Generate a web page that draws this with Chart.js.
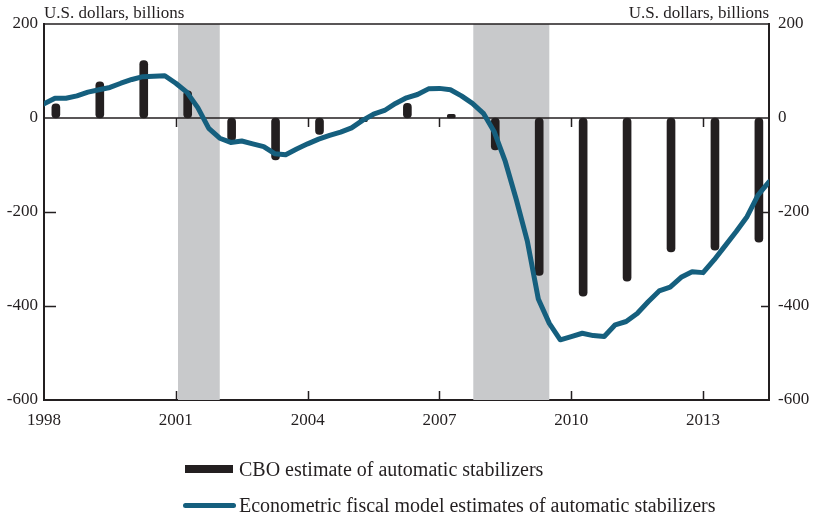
<!DOCTYPE html>
<html>
<head>
<meta charset="utf-8">
<script src="https://cdn.jsdelivr.net/npm/chart.js@4.4.1/dist/chart.umd.min.js"></script>
<style>
  html, body { margin: 0; padding: 0; background: #fff; }
  #wrap { position: relative; width: 815px; height: 517px; }
  #chart { position: absolute; left: 0; top: 0; }
  .legend-row { position: absolute; left: 183px; font: 20px "Liberation Serif", serif; color: #231f20; white-space: nowrap; line-height: 24px; }
  .legend-row span.sym { display: inline-block; vertical-align: middle; margin-right: 5px; position: relative; top: -2px; }
</style>
</head>
<body>
<div id="wrap">
  <canvas id="chart" width="815" height="517"></canvas>
  <div class="legend-row" style="top:457px;">
    <span class="sym" style="width:48px;height:8px;background:#231f20;margin-left:2px;margin-right:6px;"></span>CBO estimate of automatic stabilizers
  </div>
  <div class="legend-row" style="top:493px;">
    <span class="sym" style="width:53px;height:5px;background:#155f7e;border-radius:3px;margin-right:3px;"></span>Econometric fiscal model estimates of automatic stabilizers
  </div>
</div>
<script>
// --- datos ---
const cboYears = [1998, 1999, 2000, 2001, 2002, 2003, 2004, 2005, 2006, 2007, 2008, 2009, 2010, 2011, 2012, 2013, 2014];
const cboValues = [30, 77, 122, 58, -48, -89, -35, -8, 31, 8, -68, -335, -379, -347, -285, -281, -264];

// quarterly series, 1998Q1 .. 2014Q3
const modelValues = [
  30, 42, 42, 47,
  55, 60, 65, 74,
  82, 88, 89, 90,
  74, 55, 22, -22,
  -43, -52, -49, -55,
  -61, -76, -78, -66,
  -55, -45, -37, -30,
  -21, -5, 8, 16,
  31, 43, 50, 62,
  63, 60, 47, 31,
  10, -30, -93, -174,
  -262, -385, -437, -472,
  -465, -458, -463, -465,
  -440, -433, -416, -391,
  -368, -360, -339, -327,
  -329, -302, -272, -242,
  -210, -164, -136
];

const recessionStarts = [2001.05, 2007.77];
const recessionEnds = [2002.0, 2009.5];

const xTickYears = [1998, 2001, 2004, 2007, 2010, 2013];
const yTicks = [200, 0, -200, -400, -600];
const axisTitle = 'U.S. dollars, billions';

const INK = '#231f20';
const BLUE = '#155f7e';
const FONT = '"Liberation Serif", serif';

// CBO bars sit a bit after the start of each year
const cboPoints = cboYears.map((y, i) => ({ x: y + 0.27, y: cboValues[i] }));
const modelPoints = modelValues.map((v, i) => ({ x: 1998 + i * 0.25, y: v }));

// --- plugin: recesiones, línea cero, marcas internas, títulos ---
const decorations = {
    id: 'decorations',
    beforeDatasetsDraw(chart) {
        const { ctx, chartArea: a, scales } = chart;
        const x = scales.x, y = scales.y;
        ctx.save();
        ctx.fillStyle = '#c8c9cb';
        recessionStarts.forEach((s, i) => {
            const x0 = x.getPixelForValue(s);
            const x1 = x.getPixelForValue(recessionEnds[i]);
            ctx.fillRect(x0, a.top, x1 - x0, a.bottom - a.top);
        });
        // zero line with small downward ticks
        const y0 = y.getPixelForValue(0);
        ctx.strokeStyle = INK;
        ctx.lineWidth = 1.5;
        ctx.beginPath();
        ctx.moveTo(a.left, y0);
        ctx.lineTo(a.right, y0);
        xTickYears.slice(1).forEach(t => {
            const px = Math.round(x.getPixelForValue(t)) + 0.5;
            ctx.moveTo(px, y0);
            ctx.lineTo(px, y0 + 9);
        });
        ctx.stroke();
        ctx.restore();
    },
    afterDatasetsDraw(chart) {
        const { ctx, chartArea: a, scales } = chart;
        const x = scales.x, y = scales.y;
        ctx.save();
        ctx.strokeStyle = INK;
        ctx.lineWidth = 1.5;
        ctx.beginPath();
        // top border
        ctx.moveTo(a.left, a.top);
        ctx.lineTo(a.right, a.top);
        // inward ticks
        xTickYears.slice(1).forEach(t => {
            const px = Math.round(x.getPixelForValue(t)) + 0.5;
            ctx.moveTo(px, a.bottom);
            ctx.lineTo(px, a.bottom - 9);
        });
        [-200, -400].forEach(t => {
            const py = Math.round(y.getPixelForValue(t)) + 0.5;
            ctx.moveTo(a.left, py);
            ctx.lineTo(a.left + 12, py);
            ctx.moveTo(a.right, py);
            ctx.lineTo(a.right - 8, py);
        });
        ctx.stroke();
        // axis titles
        ctx.fillStyle = INK;
        ctx.font = '17px ' + FONT;
        ctx.textBaseline = 'alphabetic';
        ctx.textAlign = 'left';
        ctx.fillText(axisTitle, a.left, a.top - 6);
        ctx.textAlign = 'right';
        ctx.fillText(axisTitle, a.right, a.top - 6);
        ctx.restore();
    }
};

const tickFont = { family: FONT, size: 17 };

new Chart(document.getElementById('chart'), {
    data: {
        datasets: [{
            type: 'line',
            label: 'Econometric fiscal model estimates of automatic stabilizers',
            data: modelPoints,
            borderColor: BLUE,
            borderWidth: 5,
            pointRadius: 0,
            tension: 0,
            borderJoinStyle: 'round',
            borderCapStyle: 'round',
            yAxisID: 'y',
            order: 0
        }, {
            type: 'bar',
            label: 'CBO estimate of automatic stabilizers',
            data: cboPoints,
            backgroundColor: INK,
            barThickness: 8,
            borderRadius: 4,
            borderSkipped: false,
            yAxisID: 'y',
            order: 1
        }]
    },
    options: {
        responsive: false,
        animation: false,
        layout: { padding: { top: 24, bottom: 87, left: 0, right: 0 } },
        plugins: {
            legend: { display: false },
            tooltip: { enabled: false }
        },
        scales: {
            x: {
                type: 'linear',
                offset: false,
                min: 1998,
                max: 2014.5,
                afterBuildTicks: s => { s.ticks = xTickYears.map(v => ({ value: v })); },
                afterFit: s => { s.height = 30; },
                grid: { display: false, drawTicks: false, offset: false },
                border: { display: true, color: INK, width: 2 },
                ticks: {
                    color: INK,
                    font: tickFont,
                    padding: 10,
                    maxRotation: 0,
                    callback: v => String(v)
                }
            },
            y: {
                position: 'left',
                min: -600,
                max: 200,
                afterBuildTicks: s => { s.ticks = yTicks.map(v => ({ value: v })); },
                afterFit: s => { s.width = 44; },
                grid: { display: false, drawTicks: false },
                border: { display: true, color: INK, width: 2 },
                ticks: { color: INK, font: tickFont, padding: 6, callback: v => String(v) }
            },
            y2: {
                position: 'right',
                min: -600,
                max: 200,
                afterBuildTicks: s => { s.ticks = yTicks.map(v => ({ value: v })); },
                afterFit: s => { s.width = 46; },
                grid: { display: false, drawTicks: false },
                border: { display: true, color: INK, width: 2 },
                ticks: { color: INK, font: tickFont, padding: 9, callback: v => String(v) }
            }
        }
    },
    plugins: [decorations]
});
</script>
</body>
</html>
